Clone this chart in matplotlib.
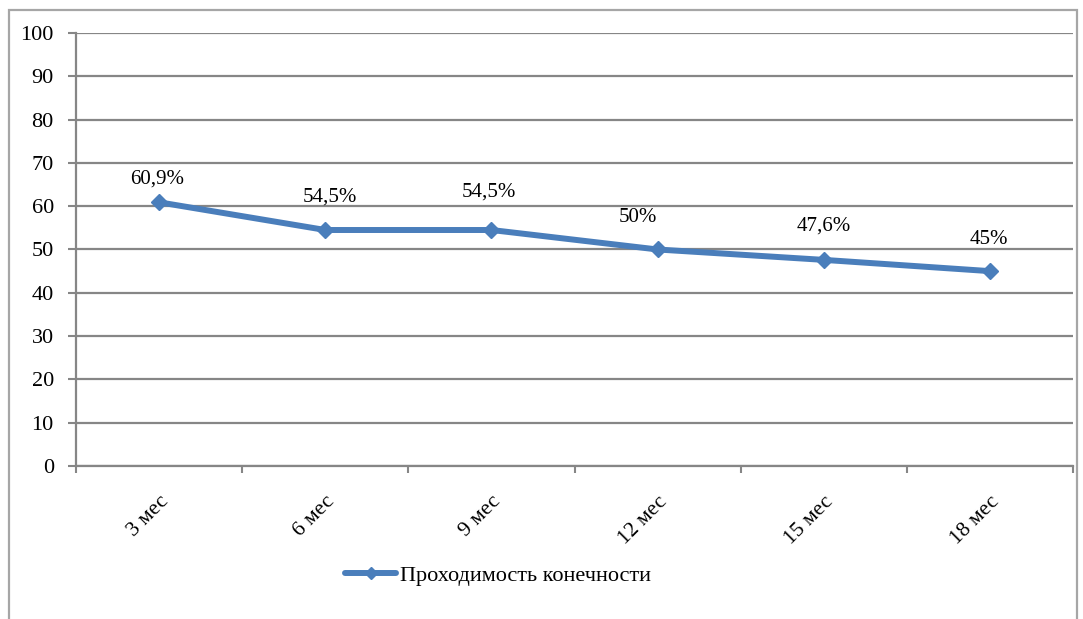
"""Line chart of limb patency over follow-up months."""

import matplotlib

matplotlib.use("Agg")
import matplotlib.pyplot as plt  # noqa: E402
from matplotlib.patches import Rectangle  # noqa: E402
import numpy as np  # noqa: E402

periods = ["3 мес", "6 мес", "9 мес", "12 мес", "15 мес", "18 мес"]
patency = [60.9, 54.5, 54.5, 50.0, 47.6, 45.0]
value_labels = ["60,9%", "54,5%", "54,5%", "50%", "47,6%", "45%"]
series_name = "Проходимость конечности"
y_ticks = list(range(0, 101, 10))

# hand-placed data label offsets, in points
label_offsets = [(-1.5, 17), (3, 24), (-2, 27), (-14, 23), (0, 24), (-1, 23)]

plt.rcParams["font.family"] = ["Liberation Serif", "DejaVu Serif"]

LINE_BLUE = "#4a7ebb"
GRID_GRAY = "#868686"

fig = plt.figure(figsize=(10.83, 6.19), dpi=100)
ax = fig.add_axes([0.0702, 0.2472, 0.9206, 0.6995])

x = np.arange(len(periods))
ax.plot(
    x, patency, color=LINE_BLUE, lw=4.3, marker="D", ms=8.5,
    solid_capstyle="round", label=series_name, zorder=4,
)
for xi, yi, txt, off in zip(x, patency, value_labels, label_offsets):
    ax.annotate(
        txt, (xi, yi), textcoords="offset points", xytext=off,
        ha="center", va="center", fontsize=15, color="black",
    )

ax.set_xlim(-0.5, len(periods) - 0.5)
ax.set_ylim(0, 100)
ax.set_yticks(y_ticks)
ax.tick_params(axis="y", labelsize=16, length=6, width=1.5, color=GRID_GRAY, pad=10)
ax.yaxis.grid(True, color=GRID_GRAY, lw=1.6)
ax.set_axisbelow(True)

# category labels at centres, tick marks on the boundaries between them
ax.set_xticks(x)
ax.set_xticklabels(periods, rotation=45, ha="right", va="top",
                   rotation_mode="anchor", fontsize=15.5)
ax.tick_params(axis="x", which="major", length=0, pad=19)
ax.set_xticks(np.arange(-0.5, len(periods)), minor=True)
ax.tick_params(axis="x", which="minor", length=5, width=1.5, color=GRID_GRAY)

for side in ("top", "right"):
    ax.spines[side].set_visible(False)
for side in ("left", "bottom"):
    ax.spines[side].set_color(GRID_GRAY)
    ax.spines[side].set_linewidth(1.6)

ax.legend(
    loc="center left", bbox_to_anchor=(0.27, -0.253), frameon=False,
    fontsize=16, handlelength=2.3, handletextpad=0.15, borderpad=0,
    borderaxespad=0, markerscale=0.7,
)

# chart frame
fig.patches.append(Rectangle(
    (9 / 1083, -0.05), 1068 / 1083, 1.05 - 10 / 619,
    transform=fig.transFigure, fill=False, edgecolor="#a6a6a6", lw=1.6,
))

fig.savefig("out.png", dpi=100)
